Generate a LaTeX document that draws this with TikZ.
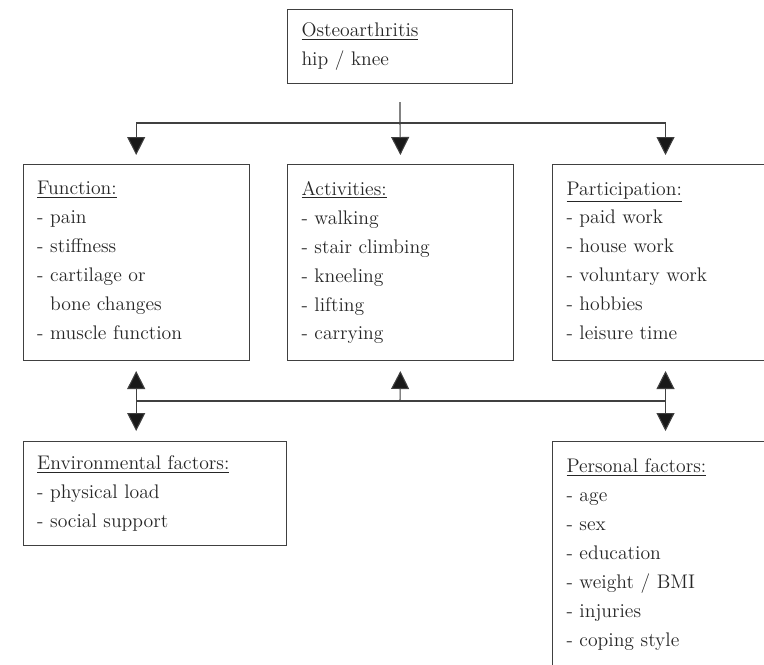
\documentclass[tikz,border=0pt]{standalone}
\usetikzlibrary{arrows.meta}
\begin{document}
\begin{tikzpicture}[x=0.02cm,y=-0.02cm,
   box/.style={rectangle,draw=black!75,line width=0.6pt,anchor=north west,
    minimum width=4.52cm,minimum height=3.92cm,text width=3.96cm,
    inner xsep=0.28cm,align=left,text=black!85,
    execute at end node={\rule[-2pt]{0pt}{2pt}},
    font=\fontsize{11.2}{16.5}\selectfont},
   link/.style={draw=black!75,line width=0.6pt},
   arr/.style={link,-{Triangle[width=0.36cm,length=0.36cm,fill=black!90]},shorten >=0.18cm},
   biarr/.style={link,{Triangle[width=0.36cm,length=0.36cm,fill=black!90]}-{Triangle[width=0.36cm,length=0.36cm,fill=black!90]},
    shorten >=0.2cm,shorten <=0.2cm}
    ]
  \clip (0,0) rectangle (764,664);

  % -- top
  \node[box,minimum width=4.5cm,minimum height=1.48cm,text width=3.94cm] at (287,9) (osteo)
    {\underline{Osteoarthritis}\\ hip / knee};

  % -- middle row
  \node[box] at (22.7,164) (func)
    {\underline{Function:}\\ - pain\\ - stiffness\\ - cartilage or\\ \phantom{- }bone changes\\ - muscle function};
  \node[box] at (287,164) (act)
    {\underline{Activities:}\\ - walking\\ - stair climbing\\ - kneeling\\ - lifting\\ - carrying};
  \node[box] at (552,164) (part)
    {\underline{Participation:}\\ - paid work\\ - house work\\ - voluntary work\\ - hobbies\\ - leisure time};

  % -- bottom row
  \node[box,minimum width=5.26cm,minimum height=2.08cm,text width=4.7cm] at (22.7,441) (env)
    {\underline{Environmental factors:}\\ - physical load\\ - social support};
  \node[box,minimum height=4.52cm] at (552,441) (pers)
    {\underline{Personal factors:}\\ - age\\ - sex\\ - education\\ - weight / BMI\\ - injuries\\ - coping style};

  % -- arrows
  \coordinate (upper) at (400,123);
  \coordinate (lower) at (400,401);

  \draw[link,shorten <=0.36cm] (osteo.south) -- (upper);
  \draw[arr] (upper) -- (act.north);
  \draw[arr] (upper) -| (func.north);
  \draw[arr] (upper) -| (part.north);

  \draw[link] (lower -| func.south) -- (lower -| part.south);
  \draw[arr,shorten >=0.2cm] (lower) -- (act.south);
  \draw[biarr] (func.south) -- (func.south |- env.north);
  \draw[biarr] (part.south) -- (pers.north);

\end{tikzpicture}
\end{document}
